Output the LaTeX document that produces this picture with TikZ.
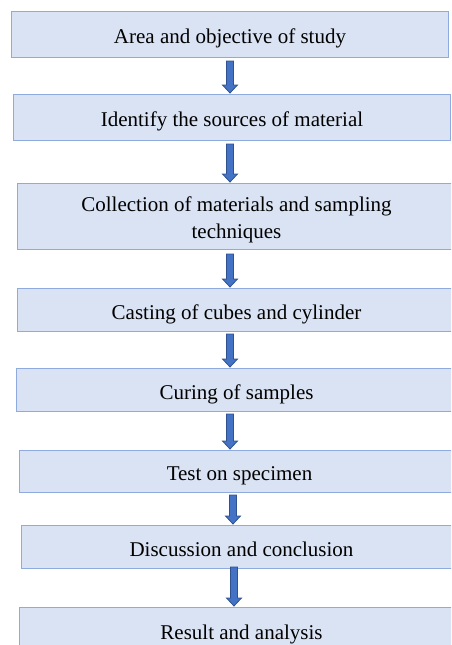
\documentclass[tikz,border=0pt]{standalone}
\usepackage{fontspec}
\setmainfont{Liberation Serif}
\usetikzlibrary{calc}
\definecolor{boxfill}{HTML}{DAE3F3}
\definecolor{boxline}{HTML}{8FAADC}
\definecolor{arrfill}{HTML}{4472C4}
\definecolor{arrline}{HTML}{2F528F}
\begin{document}
\begin{tikzpicture}[x=1pt,y=-1pt,
  stage/.style={draw=boxline,fill=boxfill,line width=1pt,rectangle,anchor=north west,inner sep=0pt,minimum width=438pt,minimum height=#1,text height=18pt,text depth=0pt,align=center,font=\fontsize{21}{27}\selectfont},
  flow/.style={draw=arrline,fill=arrfill,line width=0.8pt,line join=miter,
    to path={let \p1=(\tikztostart),\p2=(\tikztotarget) in
      (\x1-3.5pt,\y1) -- (\x1+3.5pt,\y1) -- (\x1+3.5pt,\y2+8pt) -- (\x1+7.5pt,\y2+8pt)
      -- (\x1,\y2) -- (\x1-7.5pt,\y2+8pt) -- (\x1-3.5pt,\y2+8pt) -- cycle}}]
          \useasboundingbox (0,0) rectangle (451,645);
          \clip (0,0) rectangle (451,645);
          \node[stage=46pt,minimum width=437pt] (a) at (11,11) {Area and objective of study};
          \node[stage=46pt,minimum width=437pt] (b) at (13,94) {Identify the sources of material};
          \node[stage=66pt,text height=44.6pt] (c) at (17,183) {Collection of materials and sampling\\techniques};
          \node[stage=43pt] (d) at (17,288) {Casting of cubes and cylinder};
          \node[stage=43pt,minimum width=440pt] (e) at (16,368) {Curing of samples};
          \node[stage=42pt,minimum width=440pt] (f) at (19,450) {Test on specimen};
          \node[stage=43pt,minimum width=440pt] (g) at (21,525) {Discussion and conclusion};
          \node[stage=46pt,minimum width=444pt] (h) at (19,607) {Result and analysis};
          \draw[flow] ([shift={(219,3)}]a.south west) to ([yshift=1pt]b.north);
          \draw[flow] ([shift={(217,3)}]b.south west) to ([yshift=1pt]c.north);
          \draw[flow] ([shift={(213,4)}]c.south west) to ([yshift=1pt]d.north);
          \draw[flow] ([shift={(213,2)}]d.south west) to ([yshift=1pt]e.north);
          \draw[flow] ([shift={(214,2)}]e.south west) to ([yshift=1pt]f.north);
          \draw[flow] ([shift={(214,2)}]f.south west) to ([yshift=1pt]g.north);
          \draw[flow] ([shift={(213,-2)}]g.south west) to ([yshift=1pt]h.north);
\end{tikzpicture}
\end{document}
